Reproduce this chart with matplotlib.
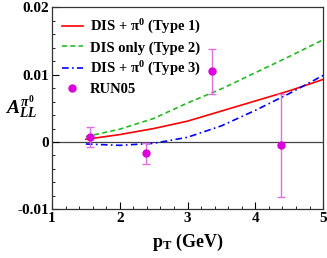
import numpy as np
import matplotlib
matplotlib.use("Agg")
import matplotlib.pyplot as plt

plt.rcParams['font.family'] = 'Liberation Serif'
plt.rcParams['font.weight'] = 'bold'
plt.rcParams['mathtext.fontset'] = 'custom'
plt.rcParams['mathtext.rm'] = 'Liberation Serif'
plt.rcParams['mathtext.it'] = 'Liberation Serif:italic'
plt.rcParams['mathtext.bf'] = 'Liberation Serif:bold'

# theory curves
pt_curve = [1.5, 2.0, 2.5, 3.0, 3.5, 4.0, 4.5, 5.0]
type1 = [0.0004, 0.0011, 0.0020, 0.0031, 0.0046, 0.0061, 0.0076, 0.0093]
type2 = [0.0008, 0.0019, 0.0035, 0.0058, 0.0079, 0.0103, 0.0127, 0.0152]
type3 = [-0.0003, -0.0005, -0.0002, 0.0007, 0.0024, 0.0047, 0.0072, 0.0099]

# RUN05 data
pt_data = [1.56, 2.38, 3.36, 4.38]
all_data = [0.0008, -0.0017, 0.0105, -0.0005]
all_err = [0.0015, 0.0016, 0.0034, 0.0077]

fig = plt.figure(figsize=(3.27, 2.58), dpi=100)
ax = fig.add_axes([0.159, 0.189, 0.829, 0.782])

ax.axhline(0, color='#444444', lw=0.9, zorder=1)
ax.plot(pt_curve, type1, color='#ff0000', lw=1.2, label=r'DIS + π$^{\mathbf{0}}$ (Type 1)')
ax.plot(pt_curve, type2, color='#22bb22', lw=1.2, ls=(0, (3, 2)), label='DIS only (Type 2)')
ax.plot(pt_curve, type3, color='#0000ff', lw=1.2, ls=(0, (4, 2, 1, 2)), label=r'DIS + π$^{\mathbf{0}}$ (Type 3)')
ax.errorbar(pt_data, all_data, yerr=all_err, fmt='none', ecolor='#e070e0',
            elinewidth=1, capsize=3, capthick=1)
ax.plot(pt_data, all_data, 'o', color='#dd00dd', ms=5, label='RUN05')

ax.set_xlim(1, 5)
ax.set_ylim(-0.01, 0.02)
ax.set_xticks([1, 2, 3, 4, 5])
ax.set_xticks(np.arange(1, 5.01, 0.2), minor=True)
ax.set_yticks([-0.01, 0, 0.01, 0.02])
ax.set_yticklabels(['-0.01', '0', '0.01', '0.02'])
ax.set_yticks(np.arange(-0.01, 0.0201, 0.002), minor=True)
ax.tick_params(which='both', direction='in', labelsize=11, top=False, right=False, pad=2)
ax.tick_params(which='major', length=5)
ax.tick_params(which='minor', length=2.5)
for s in ax.spines.values():
    s.set_color('#333333')
    s.set_linewidth(0.9)

ax.set_xlabel(r'$\mathbf{p_T}$ (GeV)', fontsize=13, fontweight='bold', labelpad=5)
fig.text(5 / 327, 0.585, r'$A_{LL}^{\pi^0}$', fontsize=14, ha='left', va='center')

ax.legend(loc='upper left', frameon=False, fontsize=10.5, handlelength=1.4,
          borderaxespad=0.3, labelspacing=0.35, handletextpad=0.5)

fig.savefig('out.png', dpi=100)
